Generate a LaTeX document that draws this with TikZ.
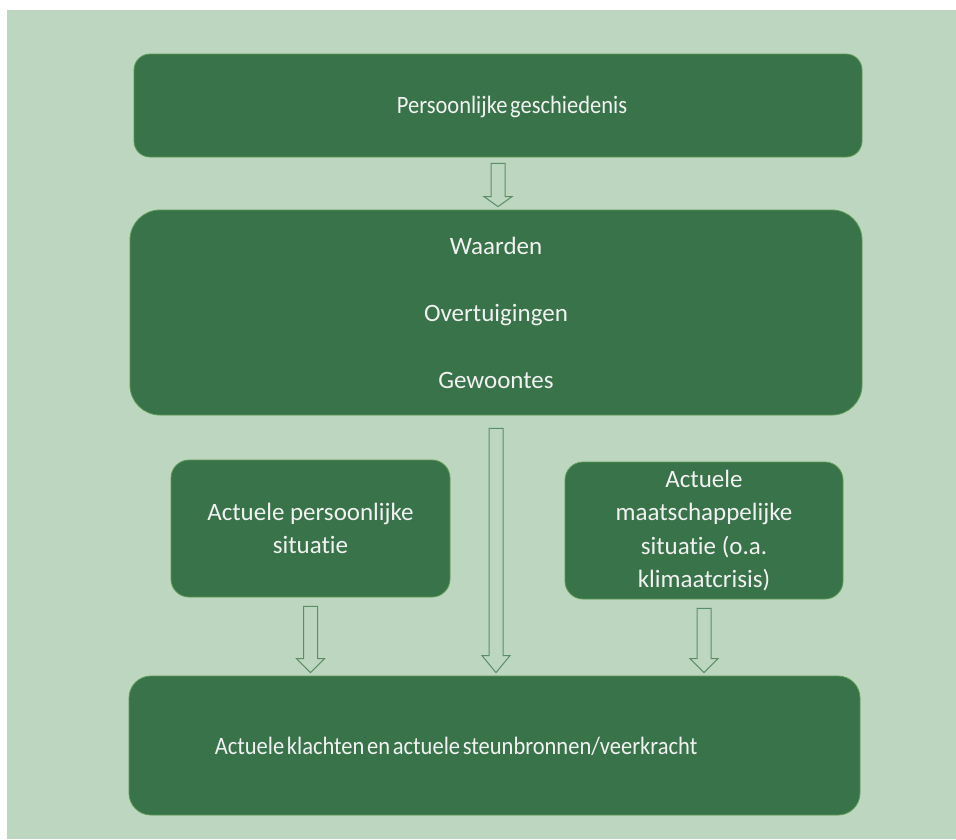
\documentclass[tikz,border=0pt]{standalone}
\usepackage{graphicx}
\usepackage{fontspec}
\setmainfont{Carlito}[Ligatures=CommonOff]
\usetikzlibrary{positioning,calc}

\definecolor{paleGreen}{HTML}{BDD6C0}
\definecolor{darkGreen}{HTML}{38734A}
\definecolor{edgeGreen}{HTML}{5E9A52}
\definecolor{arrowLine}{HTML}{5C8E66}
\definecolor{textWhite}{HTML}{F2F2F2}

% squeezed one-line text, with narrow word spaces
\newcommand{\squeezed}[1]{\scalebox{0.9}[1]{\spaceskip=0.12em plus 0.05em\relax #1}}

% hollow block arrow from the bottom of one box to the top of the next
\newcommand{\blockarrow}[4]{%
  \draw[block arrow] let \p1=(#1.south), \p2=(#2.north) in
    (\x1-7pt,\y1-#3) -- (\x1+7pt,\y1-#3) -- (\x1+7pt,\y2+3pt+#4) -- (\x1+14pt,\y2+3pt+#4)
    -- (\x1,\y2+3pt) -- (\x1-14pt,\y2+3pt+#4) -- (\x1-7pt,\y2+3pt+#4) -- cycle;}

\begin{document}
\begin{tikzpicture}[x=1pt, y=-1pt,
                box node/.style={rectangle, rounded corners=#1, draw=edgeGreen, line width=0.8pt,
                  fill=darkGreen, text=textWhite, inner sep=0pt, align=center,
                  font=\fontsize{25}{33.5}\selectfont},
                box node/.default=18pt,
                text node/.style={text=textWhite, anchor=base, inner sep=0pt,
                  font=\fontsize{25}{30}\selectfont},
                block arrow/.style={draw=arrowLine, line width=1pt, fill=paleGreen}]

      \useasboundingbox (0,0) rectangle (956,839);
      \fill[paleGreen] (7,10) rectangle (956,839);

      \node[box node=16pt, minimum width=728pt, minimum height=103pt] (history) at (498,105.5) {};
      \node[text node] (historyText) at (512,113) {\squeezed{Persoonlijke geschiedenis}};

      \node[box node=30pt, minimum width=732pt, minimum height=205pt, font=\fontsize{25}{67}\selectfont]
        (values) at (496,312.5) {Waarden\\Overtuigingen\\Gewoontes};

      \node[box node, minimum width=279pt, minimum height=137pt] (personal) at (310.5,528.5)
        {Actuele persoonlijke\\situatie};
      \node[box node, minimum width=278pt, minimum height=137pt] (societal) at (704,530.5)
        {Actuele\\maatschappelijke\\situatie (o.a.\\klimaatcrisis)};

      \node[box node=22pt, minimum width=731pt, minimum height=139pt] (complaints) at (494.5,745.5) {};
      \node[text node] (complaintsText) at (456,754)
        {\squeezed{Actuele klachten en actuele steunbronnen/veerkracht}};

      \blockarrow{history}{values}{6pt}{10pt}
      \blockarrow{values}{complaints}{13pt}{17pt}
      \blockarrow{personal}{complaints}{9pt}{14pt}
      \blockarrow{societal}{complaints}{9pt}{14pt}
  \end{tikzpicture}
\end{document}
